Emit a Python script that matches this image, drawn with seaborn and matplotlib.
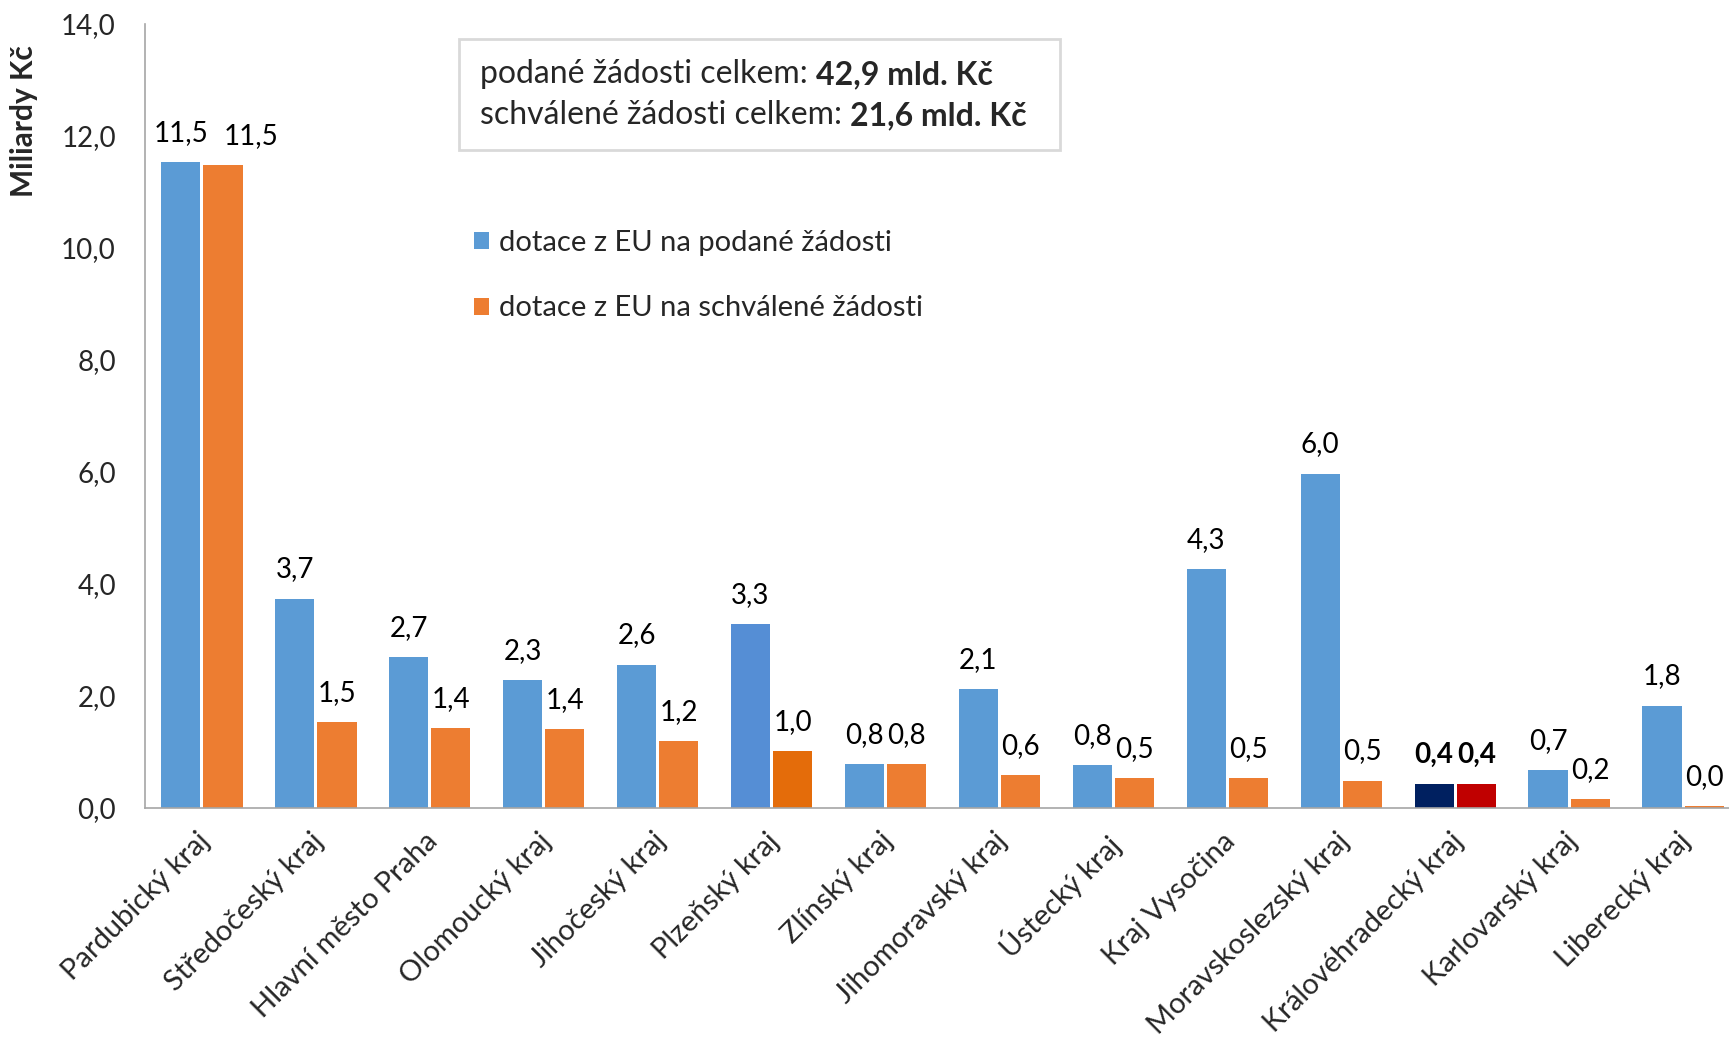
import numpy as np
import pandas as pd
import matplotlib
matplotlib.use("Agg")
import matplotlib.pyplot as plt
import matplotlib.transforms as mtransforms
from matplotlib.patches import Rectangle
from matplotlib.text import Annotation
import seaborn as sns

kraje = ["Pardubický kraj", "Středočeský kraj", "Hlavní město Praha", "Olomoucký kraj",
         "Jihočeský kraj", "Plzeňský kraj", "Zlínský kraj", "Jihomoravský kraj",
         "Ústecký kraj", "Kraj Vysočina", "Moravskoslezský kraj", "Královéhradecký kraj",
         "Karlovarský kraj", "Liberecký kraj"]
podane = [11.54, 3.74, 2.69, 2.28, 2.56, 3.28, 0.78, 2.12, 0.76, 4.27, 5.97, 0.43, 0.68, 1.83]
schvalene = [11.48, 1.53, 1.42, 1.41, 1.20, 1.01, 0.78, 0.59, 0.53, 0.53, 0.49, 0.43, 0.16, 0.03]
serie = ["dotace z EU na podané žádosti", "dotace z EU na schválené žádosti"]
yticks = [0, 2, 4, 6, 8, 10, 12, 14]
souhrn_podane = "42,9 mld. Kč"
souhrn_schvalene = "21,6 mld. Kč"

BLUE, ORANGE = "#5B9BD5", "#ED7D31"
highlight = {"Plzeňský kraj": ("#558ED5", "#E46C0A", False),
             "Královéhradecký kraj": ("#002060", "#C00000", True)}

df = pd.DataFrame({
    "kraj": kraje * 2,
    "hodnota": podane + schvalene,
    "typ": [serie[0]] * len(kraje) + [serie[1]] * len(kraje),
})

sns.set_style("white")
FONT = ["Lato", "DejaVu Sans"]
plt.rcParams["font.family"] = FONT
FS = 20

fig = plt.figure(figsize=(17.29, 10.43), dpi=100)
W, H = 1729, 1043
ax = fig.add_axes([145 / W, 1 - 808 / H, 1595 / W, (808 - 24) / H])

sns.barplot(data=df, x="kraj", y="hodnota", hue="typ", palette=[BLUE, ORANGE],
            width=0.74, gap=0.07, saturation=1, linewidth=0, ax=ax)

bold_flags = [False] * len(kraje)
for i, k in enumerate(kraje):
    if k in highlight:
        cb, co, b = highlight[k]
        ax.containers[0][i].set_facecolor(cb)
        ax.containers[1][i].set_facecolor(co)
        bold_flags[i] = b

def fmt(v):
    return f"{v:.1f}".replace(".", ",")

for si, cont in enumerate(ax.containers):
    vals = podane if si == 0 else schvalene
    for i, (bar, v) in enumerate(zip(cont, vals)):
        dx = 0
        if si == 1 and i == 0:
            dx = 20
        ax.annotate(fmt(v), (bar.get_x() + bar.get_width() / 2, bar.get_height()),
                    xytext=(dx, 21), textcoords="offset points", ha="center", va="center",
                    fontsize=FS, fontweight="bold" if bold_flags[i] else "normal",
                    color="black")

ax.set_ylim(0, 14)
ax.set_xlim(-0.5, len(kraje) - 0.5)
ax.set_yticks(yticks)
ax.set_yticklabels([fmt(t) for t in yticks], fontsize=FS)
ax.set_xticks(range(len(kraje)))
ax.set_xticklabels([])
# category labels drawn as rotated texts under each category
lab_tr = mtransforms.blended_transform_factory(ax.transData, ax.transAxes) + \
    mtransforms.ScaledTranslation(13 / 100, -20 / 100, fig.dpi_scale_trans)
for i, k in enumerate(kraje):
    ax.text(i, 0, k, transform=lab_tr, rotation=45, ha="right", va="top",
            fontsize=21, clip_on=False)
ax.set_xticks(np.arange(-0.5, len(kraje), 1), minor=True)
ax.tick_params(axis="x", which="major", length=0)
ax.tick_params(axis="x", which="minor", length=8, width=1.2, color="#A6A6A6", direction="out")
ax.tick_params(axis="y", length=8, width=1.2, color="#A6A6A6", direction="out", pad=13)
ax.set_xlabel("")
ax.set_ylabel("")
for s in ["top", "right"]:
    ax.spines[s].set_visible(False)
for s in ["left", "bottom"]:
    ax.spines[s].set_color("#A6A6A6")
    ax.spines[s].set_linewidth(1.2)

fig.text(24 / W, 1 - 121 / H, "Miliardy Kč", rotation=90, ha="center", va="center",
         fontsize=21.5, fontweight="bold")

handles, labels = ax.get_legend_handles_labels()
ax.legend(handles, labels, loc="upper left", bbox_to_anchor=(474 / W, 1 - 230 / H),
          bbox_transform=fig.transFigure, frameon=False, fontsize=21, borderpad=0,
          borderaxespad=0, handlelength=0.52, handleheight=0.52, handletextpad=0.35,
          labelspacing=1.35)

# summary box
fig.patches.append(Rectangle((459 / W, 1 - 150 / H), (1060 - 459) / W, (150 - 39) / H,
                             transform=fig.transFigure, facecolor="white",
                             edgecolor="#D9D9D9", linewidth=2, zorder=1))
BFS = 23
t1 = fig.text(480 / W, 1 - 71 / H, "podané žádosti celkem: ", fontsize=BFS,
              va="center_baseline", ha="left", zorder=3)
a1 = Annotation(souhrn_podane, xy=(1, 0), xycoords=t1, va="bottom", ha="left",
                fontsize=BFS, fontweight="bold", zorder=3)
fig.add_artist(a1)
t2 = fig.text(480 / W, 1 - 112 / H, "schválené žádosti celkem: ", fontsize=BFS,
              va="center_baseline", ha="left", zorder=3)
a2 = Annotation(souhrn_schvalene, xy=(1, 0), xycoords=t2, va="bottom", ha="left",
                fontsize=BFS, fontweight="bold", zorder=3)
fig.add_artist(a2)

fig.savefig("out.png", dpi=100)
